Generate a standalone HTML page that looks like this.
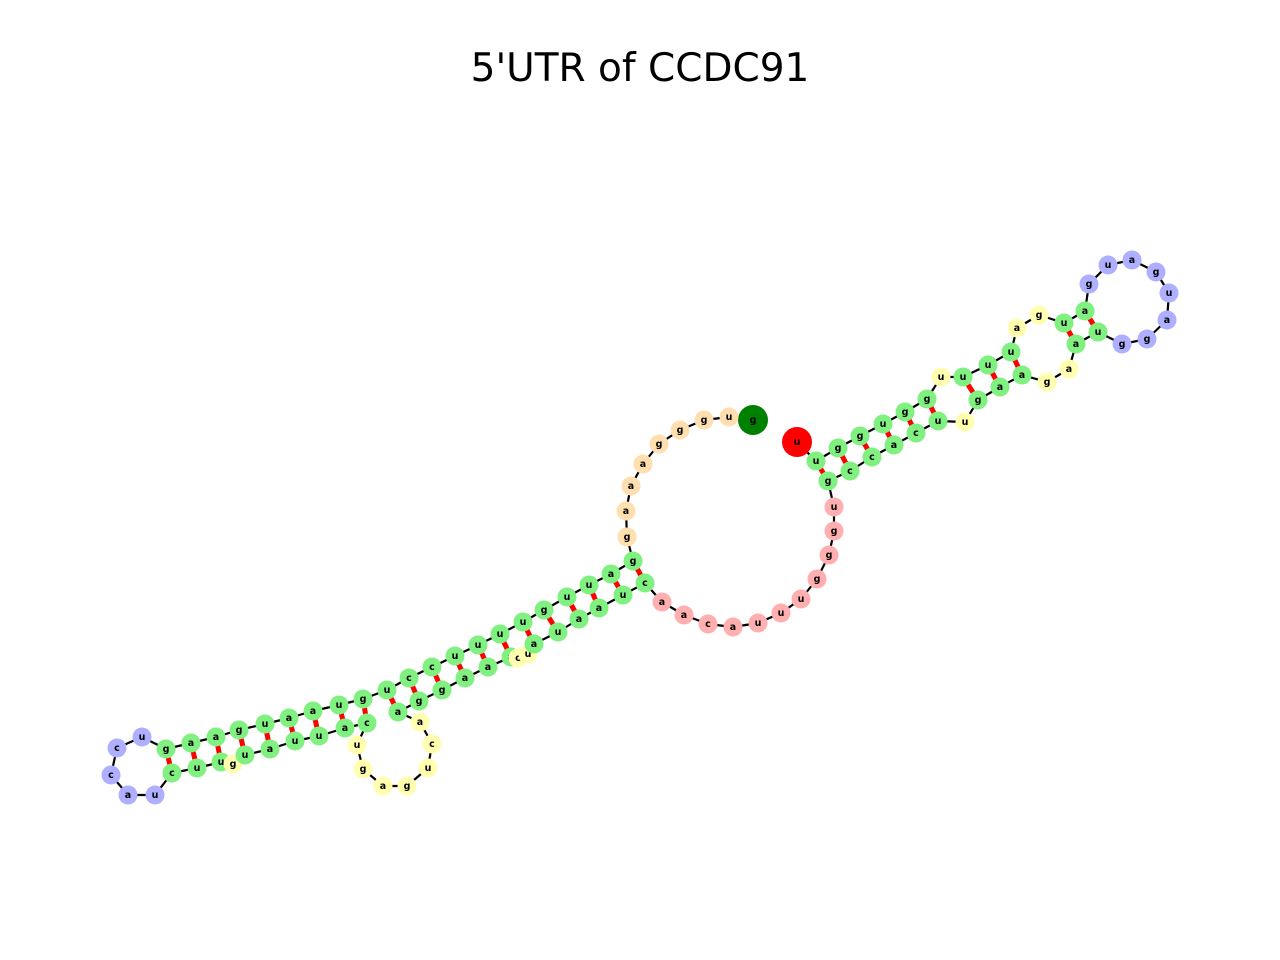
<!DOCTYPE html>
<html><head><meta charset="utf-8"><style>
html,body{margin:0;padding:0;background:#fff;}
svg{display:block;}
</style></head><body>
<svg id="chart" width="1280" height="960" xmlns="http://www.w3.org/2000/svg">
<text x="640" y="81" text-anchor="middle" font-family="DejaVu Sans, Liberation Sans, sans-serif" font-size="39">5'UTR of CCDC91</text>
<g id="backbone"></g>
<g id="pairs"></g>
<g id="nodes"></g>
</svg>
<script>
const seq = ("gugggaaagg" + "auuguuuucc" + "uguaaugaag" + "uccaucuugu" + "auuacugagu" +
  "caaggaaacu" + "auaaucaaca" + "uuugggugcc" + "acuugaagaa" + "uggaugauga" + "ugauuuuggu" + "gguu").split("");
const xs = [753,729,704,680,659,643,631,626,627,633,611,589,567,544,523,500,478,455,432,409,387,363,339,313,289,265,239,216,191,166,142,117,111,128,155,172,197,221,233,245,270,295,319,345,367,357,363,383,407,428,432,420,398,419,442,465,488,511,518,528,534,558,579,599,623,645,662,684,708,733,758,781,801,817,829,834,834,828,850,872,894,916,938,965,978,1000,1022,1047,1069,1076,1098,1122,1147,1167,1169,1156,1132,1108,1089,1085,1064,1039,1017,1011,988,963,941,927,905,883,860,838,816,797];
const ys = [420,417,420,430,444,464,486,511,537,561,574,585,597,610,622,634,645,656,667,678,690,699,705,711,718,724,730,737,743,749,737,748,775,795,795,773,768,762,764,755,749,741,736,728,723,745,769,786,786,768,744,722,712,701,690,678,667,657,658,654,644,632,619,608,595,583,602,615,624,627,623,613,599,579,555,531,507,481,471,457,445,433,421,422,400,387,375,382,369,344,332,344,339,320,293,272,260,265,284,311,323,315,328,352,365,377,377,399,412,424,436,448,461,442];
const pairI = [9,10,11,12,13,14,15,16,17,18,19,20,21,22,23,24,25,26,27,28,29,77,78,79,80,81,82,84,85,86,89,90];
const pairJ = [65,64,63,62,61,60,57,56,55,54,53,52,44,43,42,41,40,39,37,36,35,112,111,110,109,108,107,105,104,103,100,99];
// region types: s=5' start, e=3' end, p=peach unpaired, b=hairpin, y=internal/bulge, m=multiloop, g=stem
const regions = ("s" + "pppppppp" + "ggggggggggggggggggggg" + "bbbbb" + "ggg" + "y" + "gggggg" + "yyyyyyy" +
  "gggggg" + "yy" + "gggggg" + "mmmmmmmmmmm" + "gggggg" + "y" + "ggg" + "yy" + "gg" + "bbbbbbbb" +
  "gg" + "yy" + "ggg" + "y" + "gggggg" + "e").split("");
</script>
<script>
const NS = "http://www.w3.org/2000/svg";
const colorOf = {s:"#008000", e:"#ff0000", p:"#ffdfaf", b:"#afafff", y:"#ffffaf", m:"#ffafaf", g:"#80f080"};
const bb = document.getElementById("backbone");
const pg = document.getElementById("pairs");
const ng = document.getElementById("nodes");
const n = Math.min(seq.length, xs.length, ys.length);
for (let i = 0; i < n - 1; i++) {
  const l = document.createElementNS(NS, "line");
  
  
  l.setAttribute("x1", xs[i]); l.setAttribute("y1", ys[i]);
  l.setAttribute("x2", xs[i+1]); l.setAttribute("y2", ys[i+1]);
  l.setAttribute("stroke", "#000"); l.setAttribute("stroke-width", "2.2");
  bb.appendChild(l);
}
for (let k = 0; k < pairI.length; k++) {
  const a = pairI[k], b = pairJ[k];
  const l = document.createElementNS(NS, "line");
  
  
  l.setAttribute("x1", xs[a]); l.setAttribute("y1", ys[a]);
  l.setAttribute("x2", xs[b]); l.setAttribute("y2", ys[b]);
  l.setAttribute("stroke", "#ff0000"); l.setAttribute("stroke-width", "5");
  pg.appendChild(l);
}
for (let i = 0; i < n; i++) {
  const t = regions[i] || "y";
  const c = document.createElementNS(NS, "circle");
  
  
  c.setAttribute("cx", xs[i]); c.setAttribute("cy", ys[i]);
  c.setAttribute("r", (t === "s" || t === "e") ? 15 : 9.5);
  c.setAttribute("fill", colorOf[t]);
  ng.appendChild(c);
  const tx = document.createElementNS(NS, "text");
  
  
  tx.setAttribute("x", xs[i]); tx.setAttribute("y", ys[i] + 3);
  tx.setAttribute("text-anchor", "middle");
  tx.setAttribute("font-family", "DejaVu Sans, Liberation Sans, sans-serif");
  tx.setAttribute("font-size", "9.5");
  tx.setAttribute("font-weight", "bold");
  tx.setAttribute("fill", "#000");
  tx.textContent = seq[i];
  ng.appendChild(tx);
}
</script>
</body></html>
